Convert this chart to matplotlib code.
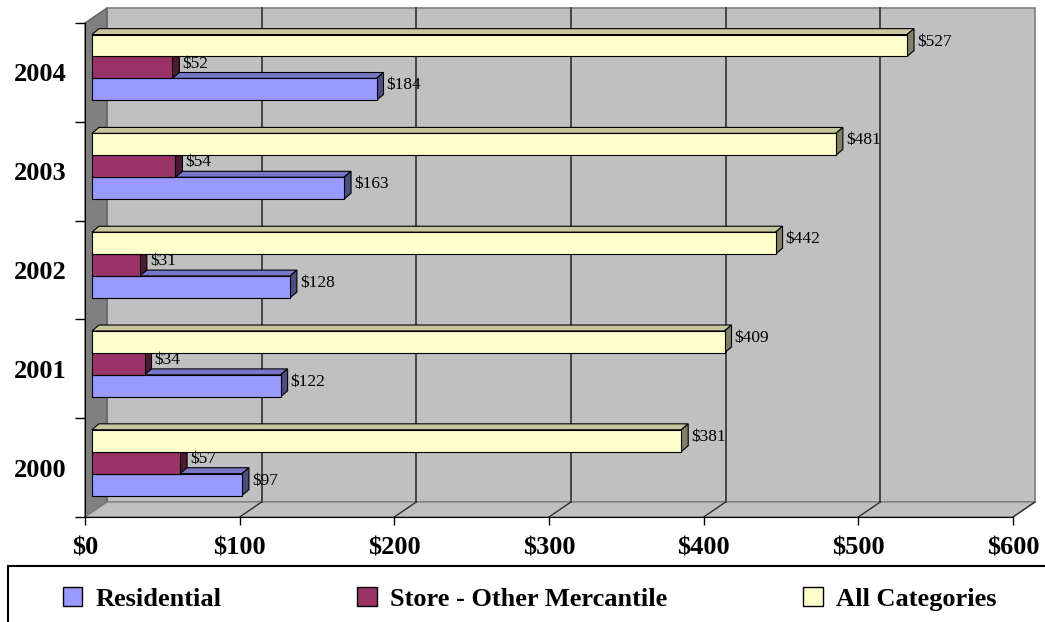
import matplotlib.pyplot as plt
from matplotlib.patches import Polygon, Rectangle, Patch
import numpy as np

years = ['2000', '2001', '2002', '2003', '2004']
residential = [97, 122, 128, 163, 184]
store = [57, 34, 31, 54, 52]
all_cats = [381, 409, 442, 481, 527]
series_names = ['Residential', 'Store - Other Mercantile', 'All Categories']
colors = ['#9999FF', '#993366', '#FFFFCC']
x_ticks = [0, 100, 200, 300, 400, 500, 600]

plt.rcParams['font.family'] = ['Liberation Serif', 'DejaVu Serif']

fig = plt.figure(figsize=(10.45, 6.22), dpi=100)
ax = fig.add_axes([85 / 1045, 105 / 622, 928 / 1045, 494 / 622])
ax.set_xlim(0, 600)
ax.set_ylim(-0.5, 4.5)
ax.patch.set_visible(False)

# 3D look: wall offset and bar depth (data units)
wdx, wdy = 14.2, 0.152
bfx, bfy = 4.5, 0.05
ddx, ddy = 4.5, 0.06
bh = 0.222


def shade(c, f):
    r, g, b = plt.matplotlib.colors.to_rgb(c)
    return (r * f, g * f, b * f)


# back wall, left wall, floor
ax.add_patch(Polygon([(wdx, -0.5 + wdy), (600 + wdx, -0.5 + wdy), (600 + wdx, 4.5 + wdy), (wdx, 4.5 + wdy)],
                     closed=True, fc='#C0C0C0', ec='#808080', lw=1.2, zorder=0, clip_on=False))
ax.add_patch(Polygon([(0, -0.5), (0, 4.5), (wdx, 4.5 + wdy), (wdx, -0.5 + wdy)],
                     closed=True, fc='#808080', ec='#606060', lw=1, zorder=0.5, clip_on=False))
ax.add_patch(Polygon([(0, -0.5), (600, -0.5), (600 + wdx, -0.5 + wdy), (wdx, -0.5 + wdy)],
                     closed=True, fc='#C0C0C0', ec='#808080', lw=1, zorder=0.5, clip_on=False))
for xv in x_ticks[1:-1]:
    ax.plot([xv + wdx, xv + wdx], [-0.5 + wdy, 4.5 + wdy], color='#303030', lw=1.2, zorder=1, clip_on=False)
for xv in x_ticks[1:]:
    ax.plot([xv, xv + wdx], [-0.5, -0.5 + wdy], color='#303030', lw=1, zorder=1, clip_on=False)

# bars: draw bottom (Residential) first so upper bars cover their top faces
offsets = [-0.222, 0.0, 0.222]
for si, (vals, col, off) in enumerate(zip([residential, store, all_cats], colors, offsets)):
    for i, v in enumerate(vals):
        yc = i + bfy + off
        y0, y1 = yc - bh / 2, yc + bh / 2
        x0, x1 = bfx, bfx + v
        z = 2 + i * 3 + si * 0.5
        ax.add_patch(Polygon([(x0, y1), (x1, y1), (x1 + ddx, y1 + ddy), (x0 + ddx, y1 + ddy)],
                             closed=True, fc=shade(col, 0.78), ec='black', lw=0.8, zorder=z, clip_on=False))
        ax.add_patch(Polygon([(x1, y0), (x1 + ddx, y0 + ddy), (x1 + ddx, y1 + ddy), (x1, y1)],
                             closed=True, fc=shade(col, 0.5), ec='black', lw=0.8, zorder=z, clip_on=False))
        ax.barh(yc, v, height=bh, left=x0, color=col, edgecolor='black', lw=0.8, zorder=z + 0.1)
        ax.text(x1 + ddx + 2, yc + ddy / 2 + 0.01, '$%d' % v, fontsize=12.5, va='center', ha='left', zorder=30)

# axes lines and ticks
for s in ['top', 'right']:
    ax.spines[s].set_visible(False)
ax.spines['left'].set_color('black')
ax.spines['bottom'].set_color('black')
ax.spines['left'].set_zorder(1.5)
ax.spines['bottom'].set_zorder(1.5)
ax.set_xticks(x_ticks)
ax.set_xticklabels(['$%d' % t for t in x_ticks], fontsize=19, fontweight='bold')
ax.tick_params(axis='x', direction='out', length=6, width=1, pad=8)
ax.set_yticks(np.arange(-0.5, 5, 1))
ax.set_yticklabels([])
ax.set_yticks(range(len(years)), minor=True)
ax.set_yticklabels(years, minor=True, fontsize=19, fontweight='bold')
ax.tick_params(axis='y', which='minor', length=0, pad=13)
ax.tick_params(axis='y', which='major', direction='out', length=7, width=1)

# legend
fig.patches.append(Rectangle((8 / 1045, -0.1), 1.1, 56 / 622 + 0.1, transform=fig.transFigure,
                             fill=False, ec='black', lw=1.5, clip_on=False))
handles = [Patch(fc=c, ec='black', lw=1) for c in colors]
fig.legend(handles, series_names, ncol=3, loc='center left', frameon=False,
           bbox_to_anchor=(52 / 1045, 23 / 622, 955 / 1045, 0), mode='expand',
           prop={'size': 19, 'weight': 'bold'}, handlelength=0.75, handleheight=0.75,
           handletextpad=0.5, borderaxespad=0)

fig.savefig('out.png', dpi=100)
